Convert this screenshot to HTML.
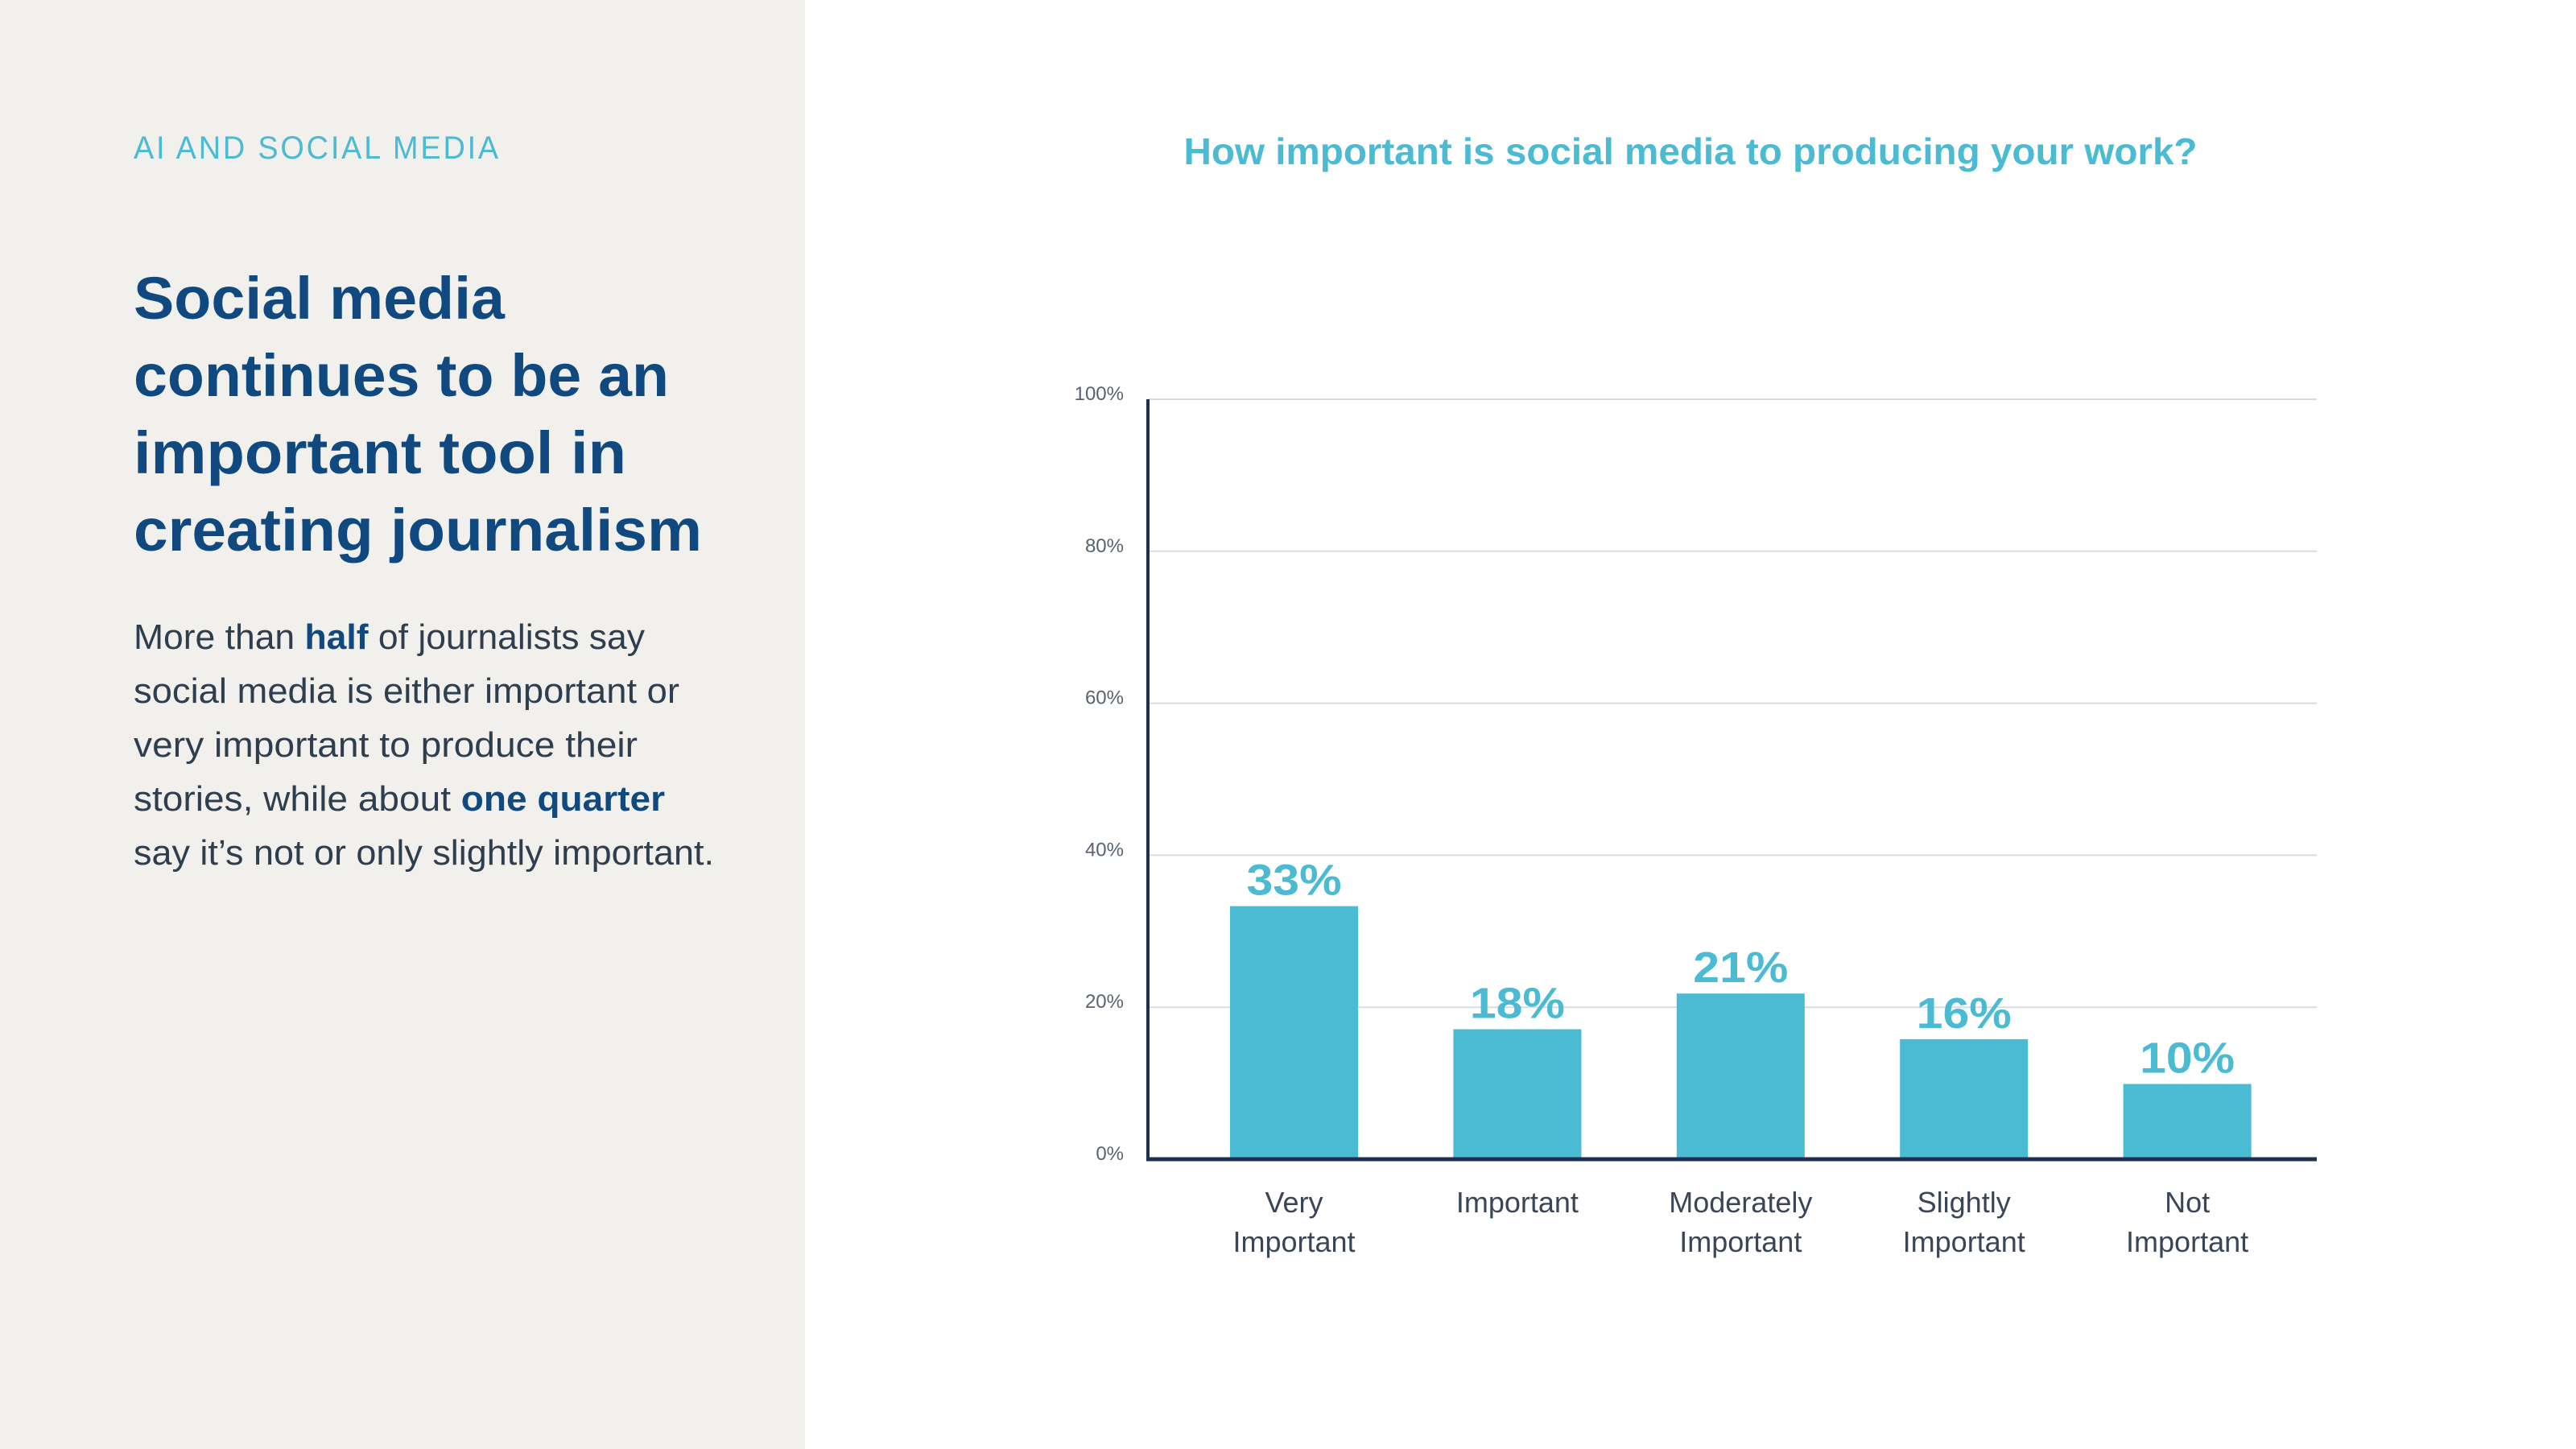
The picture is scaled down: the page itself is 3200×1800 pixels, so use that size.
<!DOCTYPE html>
<html><head><meta charset="utf-8"><style>
html,body{margin:0;padding:0;width:3200px;height:1800px;overflow:hidden;background:#fff}
svg{display:block}
text{font-family:"Liberation Sans",sans-serif}
</style></head><body>
<svg id="page" width="3200" height="1800" viewBox="0 0 3200 1800" xmlns="http://www.w3.org/2000/svg">
<rect x="0" y="0" width="1000" height="1800" fill="#f1f0ec"/>
<text x="166" y="197" font-size="40" fill="#4bbad3" letter-spacing="3" textLength="456" lengthAdjust="spacingAndGlyphs">AI AND SOCIAL MEDIA</text>
<g font-size="74" font-weight="bold" fill="#10497f">
<text x="166" y="396" textLength="461" lengthAdjust="spacingAndGlyphs">Social media</text>
<text x="166" y="492" textLength="665" lengthAdjust="spacingAndGlyphs">continues to be an</text>
<text x="166" y="588" textLength="612" lengthAdjust="spacingAndGlyphs">important tool in</text>
<text x="166" y="684" textLength="706" lengthAdjust="spacingAndGlyphs">creating journalism</text>
</g>
<g font-size="44" fill="#2f3e4e">
<text x="166" y="806" textLength="635" lengthAdjust="spacingAndGlyphs">More than <tspan font-weight="bold" fill="#10497f">half</tspan> of journalists say</text>
<text x="166" y="873" textLength="678" lengthAdjust="spacingAndGlyphs">social media is either important or</text>
<text x="166" y="940" textLength="626" lengthAdjust="spacingAndGlyphs">very important to produce their</text>
<text x="166" y="1007" textLength="660" lengthAdjust="spacingAndGlyphs">stories, while about <tspan font-weight="bold" fill="#10497f">one quarter</tspan></text>
<text x="166" y="1074" textLength="721" lengthAdjust="spacingAndGlyphs">say it’s not or only slightly important.</text>
</g>
<text x="2100" y="204" font-size="46" font-weight="bold" fill="#4bbad3" text-anchor="middle" textLength="1259" lengthAdjust="spacingAndGlyphs">How important is social media to producing your work?</text>
<g id="chart"></g>
</svg>
<script>
const categories = [["Very","Important"],["Important"],["Moderately","Important"],["Slightly","Important"],["Not","Important"]];
const values = [33.3, 17.1, 21.8, 15.8, 9.9];
const valueLabels = ["33%","18%","21%","16%","10%"];
const yTicks = [0, 20, 40, 60, 80, 100];
const yTickLabels = ["0%","20%","40%","60%","80%","100%"];

const NS = "http://www.w3.org/2000/svg";
const g = document.getElementById("chart");
const plot = {x0:1426, x1:2878, yTop:496, yBot:1440, yMax:100};
const y = v => plot.yBot - (v / plot.yMax) * (plot.yBot - plot.yTop);
const bandStart = 1528, bandStep = 277.4, barW = 159;
const xc = i => bandStart + i * bandStep + barW / 2;
function mk(tag, attrs, txt) {
  const e = document.createElementNS(NS, tag);
  for (const k in attrs) e.setAttribute(k, attrs[k]);
  if (txt !== undefined) e.textContent = txt;
  g.appendChild(e);
  return e;
}
yTicks.forEach((t, i) => {
  if (t > 0) {
    const l = mk("line", {x1: plot.x0, x2: plot.x1, y1: y(t), y2: y(t), stroke: "#d7dbe2", "stroke-width": 2});
    
    
  }
  const tx = mk("text", {x: 1396, y: y(t) + 1, "font-size": 24, fill: "#5a6270", "text-anchor": "end"}, yTickLabels[i]);
  
  
});
values.forEach((v, i) => {
  const r = mk("rect", {x: xc(i) - barW / 2, y: y(v), width: barW, height: plot.yBot - y(v), fill: "#4bbad3"});
  
  
  const vl = mk("text", {x: xc(i), y: y(v) - 14, "font-size": 54, "font-weight": "bold", fill: "#4bbad3", "text-anchor": "middle", textLength: 118, lengthAdjust: "spacingAndGlyphs"}, valueLabels[i]);
  
  
  categories[i].forEach((line, j) => {
    const cl = mk("text", {x: xc(i), y: 1506 + j * 49, "font-size": 36, fill: "#3a4656", "text-anchor": "middle"}, line);
    
    
  });
});
const ya = mk("line", {x1: plot.x0, x2: plot.x0, y1: plot.yTop, y2: plot.yBot + 2, stroke: "#1e3050", "stroke-width": 4});


const xa = mk("line", {x1: plot.x0 - 2, x2: plot.x1, y1: plot.yBot, y2: plot.yBot, stroke: "#1e3050", "stroke-width": 5});


</script>
</body></html>
